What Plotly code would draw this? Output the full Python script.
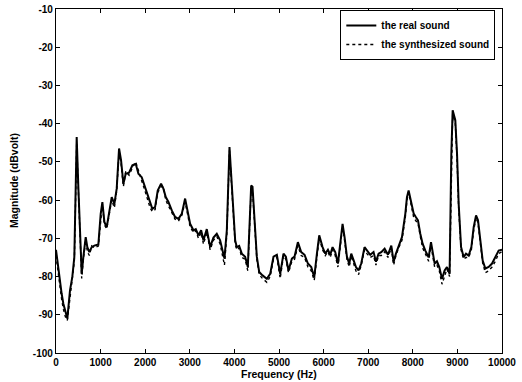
import plotly.graph_objects as go

freq = [0, 37, 80, 127, 165, 210, 254, 314, 366, 411, 440, 464, 501, 539, 576, 613, 666, 703, 748, 800,
        860, 950, 1002, 1040, 1085, 1137, 1190, 1249, 1309, 1361, 1414, 1459, 1511, 1563, 1638, 1713, 1788,
        1848, 1922, 1980, 2035, 2110, 2160, 2222, 2281, 2356, 2408, 2461, 2521, 2596, 2670, 2745, 2820, 2895,
        2947, 3007, 3082, 3134, 3194, 3254, 3306, 3381, 3456, 3530, 3605, 3680, 3777, 3830, 3890, 3957, 4017,
        4054, 4107, 4166, 4241, 4301, 4338, 4376, 4406, 4451, 4503, 4556, 4630, 4728, 4802, 4877, 4952, 5027,
        5101, 5154, 5213, 5289, 5348, 5423, 5498, 5573, 5648, 5723, 5790, 5850, 5902, 5977, 6037, 6097, 6149,
        6201, 6261, 6321, 6373, 6425, 6470, 6523, 6575, 6620, 6672, 6725, 6784, 6844, 6918, 6971, 7046, 7120,
        7174, 7233, 7293, 7368, 7443, 7518, 7570, 7622, 7682, 7757, 7832, 7869, 7906, 7959, 8019, 8071, 8116,
        8168, 8220, 8281, 8355, 8408, 8445, 8490, 8542, 8594, 8655, 8714, 8766, 8825, 8864, 8894, 8953, 8992,
        9028, 9082, 9140, 9193, 9253, 9313, 9365, 9418, 9462, 9515, 9567, 9627, 9701, 9777, 9851, 9925, 10000]

real_sound = [-73.0, -76.7, -80.0, -84.5, -87.1, -89.5, -91.0, -83.6, -80.1, -74.9, -58.0, -43.5, -56.6, -70.6,
              -79.3, -74.9, -69.7, -72.3, -73.6, -72.3, -71.9, -71.6, -63.6, -60.5, -65.7, -67.1, -63.6, -59.2,
              -61.0, -57.0, -46.5, -49.6, -55.7, -53.1, -52.8, -50.9, -50.5, -53.1, -54.0, -56.0, -58.3, -61.0,
              -62.3, -61.8, -57.5, -55.7, -57.0, -59.2, -60.5, -62.7, -64.4, -64.9, -63.6, -59.6, -62.7, -66.2,
              -67.9, -67.6, -69.2, -67.9, -70.5, -67.6, -72.3, -69.8, -68.8, -70.5, -75.3, -67.9, -46.1, -59.2,
              -70.5, -72.3, -72.0, -74.0, -74.8, -77.5, -67.9, -56.2, -56.5, -64.4, -74.8, -78.8, -79.7, -80.6,
              -79.3, -74.8, -74.3, -79.3, -74.0, -74.8, -78.4, -75.3, -74.8, -71.0, -73.6, -74.3, -76.6, -77.5,
              -80.2, -74.0, -69.2, -72.3, -74.0, -73.0, -74.3, -72.3, -73.6, -76.6, -70.5, -66.2, -69.7, -74.8,
              -76.6, -74.0, -75.7, -77.5, -78.4, -76.6, -72.3, -73.2, -74.3, -73.6, -76.1, -74.0, -73.6, -72.7,
              -74.3, -71.9, -76.1, -74.0, -71.9, -69.7, -63.6, -59.2, -57.5, -60.5, -63.5, -64.5, -65.3, -68.8,
              -71.4, -73.2, -75.0, -71.0, -74.0, -76.6, -76.0, -77.5, -80.6, -78.4, -77.5, -79.3, -47.9, -36.5,
              -39.1, -47.9, -60.9, -72.3, -74.9, -74.0, -74.5, -72.3, -67.1, -64.0, -65.3, -70.5, -75.8, -77.9,
              -77.5, -76.6, -75.0, -73.2, -73.0]

synth_sound = [-74.5, -78.0, -81.5, -86.0, -88.5, -90.5, -91.5, -85.0, -81.0, -76.0, -59.5, -45.0, -57.5, -72.0,
               -80.5, -75.5, -70.5, -73.5, -74.5, -72.0, -72.5, -72.0, -64.5, -61.0, -66.5, -67.5, -64.0, -60.0,
               -62.0, -57.5, -47.5, -50.5, -56.5, -52.5, -53.5, -51.5, -50.0, -52.5, -55.0, -57.0, -59.0, -62.0,
               -63.0, -62.5, -58.0, -56.5, -56.5, -60.0, -61.5, -63.5, -65.0, -65.5, -64.0, -60.5, -63.5, -67.0,
               -68.5, -68.0, -70.0, -68.5, -71.5, -68.5, -73.0, -70.5, -69.5, -71.5, -77.0, -69.0, -47.0, -60.0,
               -71.5, -73.0, -72.5, -75.0, -75.5, -78.5, -69.0, -57.0, -57.5, -65.0, -75.5, -79.5, -80.5, -81.5,
               -80.0, -75.5, -75.0, -80.5, -74.5, -75.5, -79.0, -76.0, -75.5, -72.0, -74.5, -75.0, -77.5, -78.5,
               -81.0, -75.0, -70.0, -73.0, -74.5, -73.5, -75.0, -73.0, -74.5, -77.5, -71.5, -67.0, -70.5, -75.5,
               -77.5, -74.5, -76.5, -78.5, -79.5, -77.0, -73.0, -74.0, -75.0, -74.5, -77.0, -74.5, -74.5, -73.5,
               -75.0, -72.5, -77.0, -74.5, -72.5, -70.5, -64.5, -60.0, -58.0, -61.5, -64.5, -65.5, -66.0, -69.5,
               -72.5, -74.0, -76.0, -72.0, -75.0, -77.5, -77.0, -78.5, -82.0, -79.5, -78.0, -80.0, -49.0, -37.5,
               -40.0, -49.0, -62.0, -73.0, -75.5, -75.0, -75.0, -73.0, -68.0, -64.5, -66.0, -71.5, -76.5, -79.0,
               -78.5, -77.5, -76.0, -74.0, -73.5]

x_ticks = [0, 1000, 2000, 3000, 4000, 5000, 6000, 7000, 8000, 9000, 10000]
y_ticks = [-100, -90, -80, -70, -60, -50, -40, -30, -20, -10]
x_title = "Frequency (Hz)"
y_title = "Magnitude (dBvolt)"

font_family = "Liberation Sans, Arial, sans-serif"
title_font = dict(family=font_family, size=10.5, color="black", weight="bold")

fig = go.Figure()
fig.add_trace(go.Scatter(x=freq, y=real_sound, mode="lines", name="the real sound",
                         line=dict(color="black", width=2)))
fig.add_trace(go.Scatter(x=freq, y=synth_sound, mode="lines", name="the synthesized sound",
                         line=dict(color="black", width=1.4, dash="dot")))

axis_common = dict(
    showgrid=False, zeroline=False, showline=True, linecolor="black", linewidth=1.3,
    mirror="ticks", ticks="inside", ticklen=4, tickcolor="black", tickwidth=1,
    automargin=False,
    tickfont=dict(family=font_family, size=10, color="black", weight="bold"),
)

fig.update_layout(
    width=522, height=382,
    margin=dict(l=56, r=20, t=9, b=29, autoexpand=False),
    paper_bgcolor="white", plot_bgcolor="white",
    font=dict(family=font_family, color="black"),
    xaxis=dict(range=[0, 10000], tickvals=x_ticks, ticktext=[str(v) for v in x_ticks], **axis_common),
    yaxis=dict(range=[-100, -10], tickvals=y_ticks, ticktext=[str(v) for v in y_ticks], **axis_common),
    legend=dict(x=0.985, y=0.997, xanchor="right", yanchor="top",
                bgcolor="white", bordercolor="black", borderwidth=1,
                font=dict(family=font_family, size=10, color="black", weight="bold"),
                itemwidth=30, tracegroupgap=0),
    showlegend=True,
    annotations=[
        dict(text=x_title, xref="paper", yref="paper", x=0.5, y=-0.062, xanchor="center", yanchor="middle",
             showarrow=False, font=title_font),
        dict(text=y_title, xref="paper", yref="paper", x=-0.094, y=0.5, xanchor="center", yanchor="middle",
             textangle=-90, showarrow=False, font=title_font),
    ],
)

fig.write_html("out.html")
